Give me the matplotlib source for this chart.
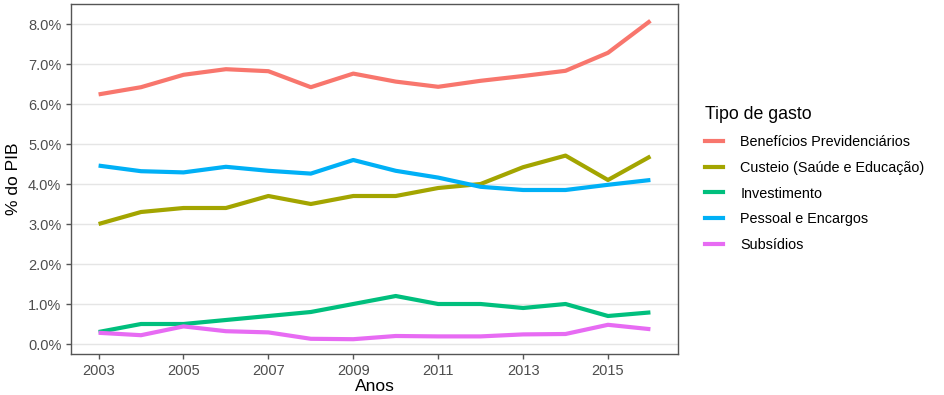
import numpy as np
import matplotlib
matplotlib.use('Agg')
from matplotlib import pyplot as plt
from matplotlib.lines import Line2D
from matplotlib.ticker import FuncFormatter

# dados (% do PIB)
anos = list(range(2003, 2017))
beneficios = [6.24, 6.42, 6.73, 6.87, 6.82, 6.42, 6.76, 6.56, 6.43, 6.58, 6.70, 6.83, 7.28, 8.08]
custeio = [3.0, 3.3, 3.4, 3.4, 3.7, 3.5, 3.7, 3.7, 3.9, 4.0, 4.42, 4.71, 4.1, 4.69]
investimento = [0.3, 0.5, 0.5, 0.6, 0.7, 0.8, 1.0, 1.2, 1.0, 1.0, 0.9, 1.0, 0.7, 0.79]
pessoal = [4.46, 4.32, 4.29, 4.43, 4.33, 4.26, 4.60, 4.33, 4.16, 3.93, 3.85, 3.85, 3.98, 4.10]
subsidios = [0.28, 0.22, 0.44, 0.32, 0.29, 0.13, 0.12, 0.20, 0.19, 0.19, 0.24, 0.25, 0.48, 0.37]

series = [
    ('Benefícios Previdenciários', beneficios, '#F8766D'),
    ('Custeio (Saúde e Educação)', custeio, '#A3A500'),
    ('Investimento', investimento, '#00BF7D'),
    ('Pessoal e Encargos', pessoal, '#00B0F6'),
    ('Subsídios', subsidios, '#E76BF3'),
]

plt.rcParams['font.family'] = ['Liberation Sans', 'DejaVu Sans']

fig = plt.figure(figsize=(9.45, 3.95), dpi=100)
ax = fig.add_axes([71/945, 41/395, 607/945, 350/395])

for name, vals, col in series:
    ax.plot(anos, vals, color=col, lw=3.0, solid_capstyle='butt', label=name)

ax.set_xlim(2002.35, 2016.65)
ax.set_ylim(-0.25, 8.5)
ax.set_xticks([2003, 2005, 2007, 2009, 2011, 2013, 2015])
ax.set_yticks(np.arange(0, 9, 1.0))
ax.yaxis.set_major_formatter(FuncFormatter(lambda v, p: f'{v:.1f}%'))
ax.grid(axis='y', color='#E5E5E5', lw=1.0)
ax.set_axisbelow(True)
for s in ax.spines.values():
    s.set_color('#555555')
    s.set_linewidth(1.0)
ax.tick_params(axis='both', colors='#555555', labelcolor='#4D4D4D', labelsize=10.5, length=3.5, width=1.0)

ax.set_xlabel('Anos', fontsize=12.5, labelpad=1)
ax.set_ylabel('% do PIB', fontsize=12.5, labelpad=5)

handles = [Line2D([], [], color=c, lw=3.0) for _, _, c in series]
leg = fig.legend(handles, [n for n, _, _ in series], title='Tipo de gasto',
                 loc='upper left', bbox_to_anchor=(692/945, 1 - 93/395),
                 frameon=False, fontsize=10.4, title_fontsize=12.8,
                 handlelength=1.25, handletextpad=1.2, labelspacing=0.82)
leg._legend_box.align = 'left'

fig.savefig('out.png', dpi=100)
